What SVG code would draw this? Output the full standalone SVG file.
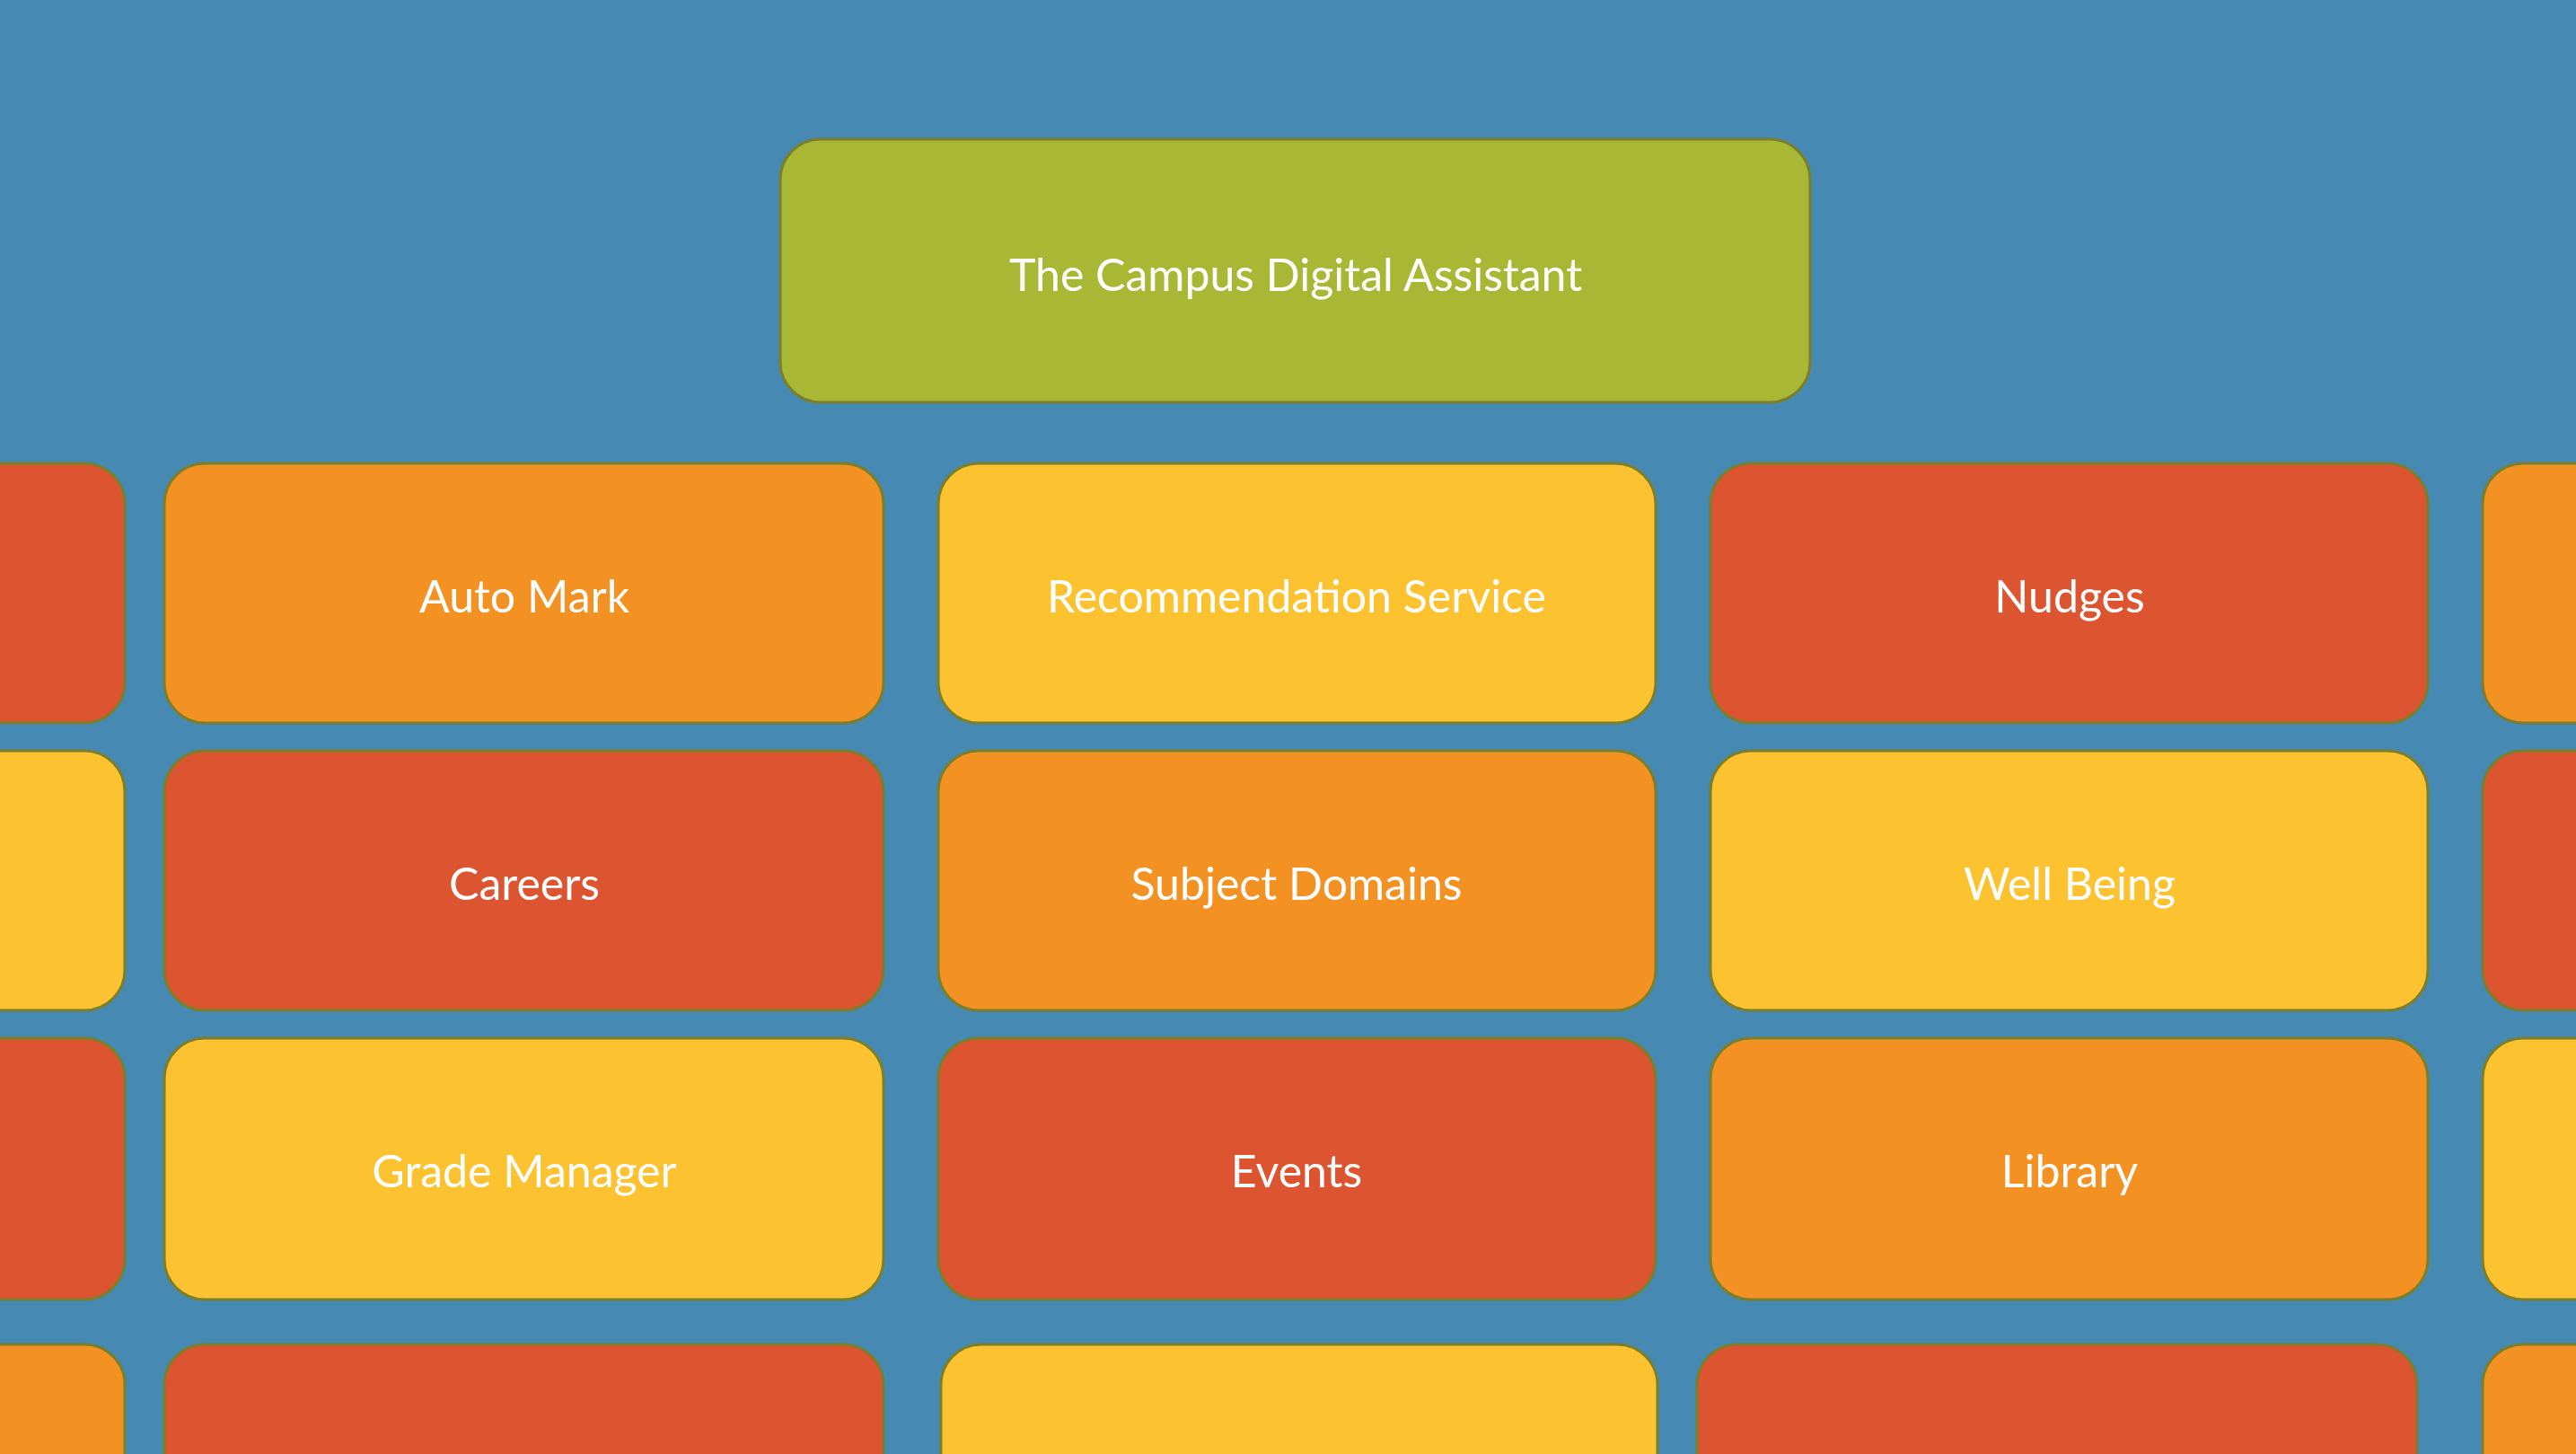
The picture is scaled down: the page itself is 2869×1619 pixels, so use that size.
<svg xmlns="http://www.w3.org/2000/svg" width="2869" height="1619" viewBox="0 0 2869 1619">
<style>
rect.n{stroke:#7a7f2c;stroke-width:3}
.g{fill:#A8B835}.o{fill:#F39223}.y{fill:#FDC230}.r{fill:#DD5431}
text{font-family:"Lato","Liberation Sans",sans-serif;font-size:50px;fill:#fff;text-anchor:middle;dominant-baseline:central}
</style>
<rect width="2869" height="1619" fill="#4689B2"/>
<g id="root"><rect class="n g" x="869" y="155" width="1147" height="293" rx="45"/><text x="1443" y="305">The Campus Digital Assistant</text></g>
<g id="row1">
<rect class="n r" x="-400" y="516" width="539" height="289" rx="45"/>
<g id="automark"><rect class="n o" x="183" y="516" width="801" height="289" rx="45"/><text x="584" y="663">Auto Mark</text></g>
<g id="recommendation"><rect class="n y" x="1045" y="516" width="799" height="289" rx="45"/><text x="1444" y="663">Recommendation Service</text></g>
<g id="nudges"><rect class="n r" x="1905" y="516" width="799" height="289" rx="45"/><text x="2305" y="663">Nudges</text></g>
<rect class="n o" x="2765" y="516" width="500" height="289" rx="45"/>
</g>
<g id="row2">
<rect class="n y" x="-400" y="836" width="539" height="289" rx="45"/>
<g id="careers"><rect class="n r" x="183" y="836" width="801" height="289" rx="45"/><text x="584" y="983">Careers</text></g>
<g id="subject"><rect class="n o" x="1045" y="836" width="799" height="289" rx="45"/><text x="1444" y="983">Subject Domains</text></g>
<g id="wellbeing"><rect class="n y" x="1905" y="836" width="799" height="289" rx="45"/><text x="2305" y="983">Well Being</text></g>
<rect class="n r" x="2765" y="836" width="500" height="289" rx="45"/>
</g>
<g id="row3">
<rect class="n r" x="-400" y="1156" width="539" height="291" rx="45"/>
<g id="grade"><rect class="n y" x="183" y="1156" width="801" height="291" rx="45"/><text x="584" y="1303">Grade Manager</text></g>
<g id="events"><rect class="n r" x="1045" y="1156" width="799" height="291" rx="45"/><text x="1444" y="1303">Events</text></g>
<g id="library"><rect class="n o" x="1905" y="1156" width="799" height="291" rx="45"/><text x="2305" y="1303">Library</text></g>
<rect class="n y" x="2765" y="1156" width="500" height="291" rx="45"/>
</g>
<g id="row4">
<rect class="n o" x="-400" y="1497" width="539" height="291" rx="45"/>
<rect class="n r" x="183" y="1497" width="801" height="291" rx="45"/>
<rect class="n y" x="1048" y="1497" width="798" height="291" rx="45"/>
<rect class="n r" x="1890" y="1497" width="802" height="291" rx="45"/>
<rect class="n o" x="2765" y="1497" width="500" height="291" rx="45"/>
</g>
<g id="connectors"/>
</svg>
